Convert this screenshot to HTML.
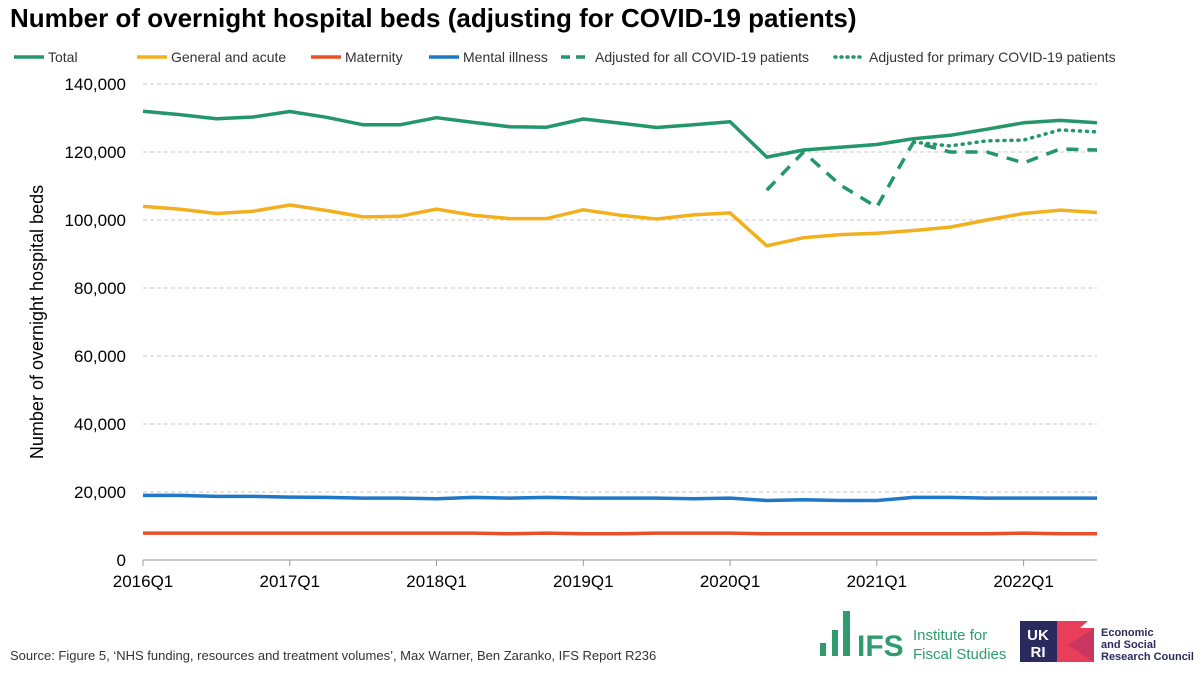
<!DOCTYPE html>
<html><head><meta charset="utf-8"><style>
body{margin:0;background:#fff;font-family:"Liberation Sans",Arial,sans-serif;}
svg{display:block}
</style></head><body>
<svg id="c" width="1200" height="676" xmlns="http://www.w3.org/2000/svg" font-family="Liberation Sans, Arial, sans-serif">
<text x="10" y="27" font-size="26" font-weight="bold" fill="#000">Number of overnight hospital beds (adjusting for COVID-19 patients)</text>
<g id="legend" font-size="14" fill="#333"></g>
<g id="grid"></g>
<g id="yticks" font-size="17" fill="#000"></g>
<g id="xticks" font-size="17" fill="#000"></g>
<g id="series"></g>
<text transform="translate(43,322) rotate(-90)" text-anchor="middle" font-size="18" fill="#000">Number of overnight hospital beds</text>
<text x="10" y="660" font-size="13" fill="#333">Source: Figure 5, ‘NHS funding, resources and treatment volumes’, Max Warner, Ben Zaranko, IFS Report R236</text>
<g fill="#2e9c6c">
<rect x="820" y="643" width="6" height="13"/><rect x="832" y="630" width="6" height="26"/><rect x="843" y="611" width="7" height="45"/>
<text x="857" y="656" font-size="30" font-weight="bold">IFS</text>
<text x="913" y="640" font-size="15">Institute for</text>
<text x="913" y="659" font-size="15">Fiscal Studies</text>
</g>
<g>
<rect x="1020" y="621" width="37" height="41" fill="#2a2a5e"/>
<text x="1038" y="640" font-size="15" font-weight="bold" fill="#fff" text-anchor="middle">UK</text>
<text x="1038" y="657" font-size="15" font-weight="bold" fill="#fff" text-anchor="middle">RI</text>
<polygon points="1057,621 1088,621 1080,628 1094,628 1094,662 1057,662" fill="#e83e5a"/>
<polygon points="1094,628 1068,645 1094,662" fill="#c9365f"/>
<text x="1101" y="636" font-size="11" font-weight="bold" fill="#2a2a5e">Economic</text>
<text x="1101" y="648" font-size="11" font-weight="bold" fill="#2a2a5e">and Social</text>
<text x="1101" y="660" font-size="11" font-weight="bold" fill="#2a2a5e">Research Council</text>
</g>
</svg>
<script>
const quarters=["2016Q1","2016Q2","2016Q3","2016Q4","2017Q1","2017Q2","2017Q3","2017Q4","2018Q1","2018Q2","2018Q3","2018Q4","2019Q1","2019Q2","2019Q3","2019Q4","2020Q1","2020Q2","2020Q3","2020Q4","2021Q1","2021Q2","2021Q3","2021Q4","2022Q1","2022Q2","2022Q3"];
const total=[132000,131000,129800,130300,131900,130200,128000,128000,130100,128700,127400,127300,129700,128500,127200,128000,128900,118500,120600,121400,122200,123900,124900,126700,128600,129300,128600];
const general=[104000,103200,101900,102600,104400,102800,100900,101100,103200,101400,100400,100400,103000,101400,100300,101500,102100,92400,94800,95700,96100,96900,97900,100000,101900,102900,102200];
const mental=[19000,19000,18700,18700,18500,18400,18200,18200,18000,18400,18200,18400,18200,18200,18200,18000,18200,17500,17700,17500,17500,18400,18400,18200,18200,18200,18200];
const maternity=[7900,7900,7900,7900,7900,7900,7900,7900,7900,7900,7700,7900,7700,7700,7900,7900,7900,7700,7700,7700,7700,7700,7700,7700,7900,7700,7700];
const adjAll=[null,null,null,null,null,null,null,null,null,null,null,null,null,null,null,null,null,108800,120000,110300,103800,122900,120000,120000,116800,120900,120600];
const adjPrimary=[null,null,null,null,null,null,null,null,null,null,null,null,null,null,null,null,null,null,null,null,null,122900,121800,123300,123500,126500,125900];
const yTicks=[0,20000,40000,60000,80000,100000,120000,140000];
const xLabels=["2016Q1","2017Q1","2018Q1","2019Q1","2020Q1","2021Q1","2022Q1"];
const NS="http://www.w3.org/2000/svg";
const x0=143,x1=1097,yB=560,yT=84,yMax=140000;
const xs=i=>x0+i*(x1-x0)/(quarters.length-1);
const ys=v=>yB-v*(yB-yT)/yMax;
function el(t,a,p){const e=document.createElementNS(NS,t);for(const k in a)e.setAttribute(k,a[k]);p.appendChild(e);return e;}
const grid=document.getElementById('grid'),yt=document.getElementById('yticks'),xt=document.getElementById('xticks'),ser=document.getElementById('series');
yTicks.forEach(v=>{
 if(v>0){const l=el('line',{x1:x0,x2:x1,y1:ys(v),y2:ys(v),stroke:'#c8c8c8','stroke-dasharray':'4,3'},grid);
 
 }
 const t=el('text',{x:x0-17,y:ys(v)+6,'text-anchor':'end'},yt);t.textContent=v.toLocaleString('en-US');
 
 
});
const ax=el('line',{x1:x0,x2:x1,y1:yB,y2:yB,stroke:'#999'},xt);


xLabels.forEach(q=>{const i=quarters.indexOf(q);
 const tk=el('line',{x1:xs(i),x2:xs(i),y1:yB,y2:yB+6,stroke:'#999'},xt);
 
 
 const t=el('text',{x:xs(i),y:yB+27,'text-anchor':'middle'},xt);t.textContent=q;
 
 
});
function line(vals,color,dash,name){
 let d='',pen=false;vals.forEach((v,i)=>{if(v==null){pen=false;return;}d+=(pen?'L':'M')+xs(i).toFixed(1)+','+ys(v).toFixed(1);pen=true;});
 const a={d:d,fill:'none',stroke:color,'stroke-width':3.5,'stroke-linejoin':'round'};
 if(dash)a['stroke-dasharray']=dash;
 if(dash==='1,6'){a['stroke-linecap']='round';}
 const p=el('path',a,ser);
 
 
}
line(maternity,'#e8502a',null,'maternity-line');
line(mental,'#1f77c8',null,'mental-illness-line');
line(general,'#f2b01e',null,'general-acute-line');
line(adjPrimary,'#23966a','1,6','adjusted-primary-covid-line');
line(adjAll,'#23966a','12,9','adjusted-all-covid-line');
line(total,'#23966a',null,'total-line');
const lg=document.getElementById('legend');
const items=[["Total","#23966a",null,14],["General and acute","#f2b01e",null,137],["Maternity","#e8502a",null,311],["Mental illness","#1f77c8",null,429],["Adjusted for all COVID-19 patients","#23966a","9,6",561],["Adjusted for primary COVID-19 patients","#23966a","1,5",835]];
items.forEach(it=>{
 const g=el('g',{},lg);
 
 
 const a={x1:it[3],x2:it[3]+30,y1:57,y2:57,stroke:it[1],'stroke-width':3.5};
 if(it[2]){a['stroke-dasharray']=it[2];}
 if(it[2]==='1,5')a['stroke-linecap']='round';
 el('line',a,g);
 const t=el('text',{x:it[3]+34,y:62},g);t.textContent=it[0];
});
</script>
</body></html>
